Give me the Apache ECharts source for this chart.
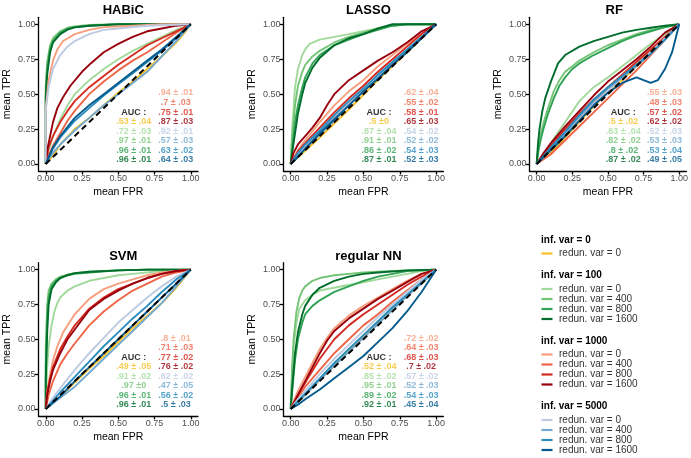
<!DOCTYPE html>
<html>
<head>
<meta charset="utf-8">
<script src="https://cdn.jsdelivr.net/npm/echarts@6/dist/echarts.min.js"></script>
<style>
  html, body { margin: 0; padding: 0; background: #fff; }
  #chart { width: 691px; height: 458px; }
</style>
</head>
<body>
<div id="chart"></div>
<script>
// panel titles and axis ticks
const panelTitles = ["HABiC", "LASSO", "RF", "SVM", "regular NN"];
const tickValues = [0, 0.25, 0.5, 0.75, 1];
const diagonal = [[0, 0], [1, 1]];

// curve order: inf0/r0, inf100 r0..r1600, inf1000 r0..r1600, inf5000 r0..r1600
const habicRoc = [
  [[0,0],[0.05,0.06],[0.1,0.14],[0.2,0.25],[0.3,0.33],[0.4,0.42],[0.5,0.51],[0.6,0.59],[0.7,0.68],[0.8,0.77],[0.9,0.87],[0.95,0.93],[1,1]],
  [[0,0],[0.02,0.1],[0.05,0.2],[0.1,0.32],[0.15,0.42],[0.2,0.5],[0.3,0.6],[0.4,0.68],[0.5,0.75],[0.6,0.81],[0.7,0.86],[0.8,0.91],[0.9,0.96],[1,1]],
  [[0,0],[0,0.56],[0.01,0.73],[0.03,0.85],[0.05,0.9],[0.1,0.95],[0.15,0.975],[0.2,0.985],[0.3,0.995],[0.5,1],[1,1]],
  [[0,0],[0,0.5],[0.01,0.68],[0.03,0.82],[0.05,0.88],[0.1,0.94],[0.15,0.968],[0.2,0.98],[0.3,0.99],[0.5,1],[1,1]],
  [[0,0],[0,0.47],[0.01,0.64],[0.03,0.8],[0.05,0.87],[0.1,0.93],[0.15,0.962],[0.2,0.978],[0.3,0.99],[0.5,1],[1,1]],
  [[0,0],[0,0.4],[0.02,0.6],[0.05,0.74],[0.08,0.82],[0.12,0.88],[0.2,0.93],[0.3,0.96],[0.4,0.98],[0.6,0.99],[0.8,1],[1,1]],
  [[0,0],[0.02,0.06],[0.05,0.13],[0.1,0.22],[0.15,0.31],[0.2,0.38],[0.3,0.5],[0.4,0.59],[0.5,0.67],[0.6,0.74],[0.7,0.8],[0.8,0.87],[0.9,0.94],[1,1]],
  [[0,0],[0.02,0.12],[0.05,0.2],[0.1,0.3],[0.15,0.38],[0.2,0.45],[0.3,0.55],[0.4,0.63],[0.5,0.71],[0.6,0.78],[0.7,0.85],[0.8,0.9],[0.9,0.95],[1,1]],
  [[0,0],[0.01,0.1],[0.03,0.2],[0.05,0.3],[0.08,0.4],[0.12,0.48],[0.17,0.56],[0.25,0.66],[0.31,0.72],[0.4,0.8],[0.5,0.86],[0.6,0.91],[0.7,0.95],[0.8,0.97],[0.9,0.99],[1,1]],
  [[0,0],[0,0.38],[0.02,0.55],[0.05,0.68],[0.1,0.78],[0.15,0.84],[0.2,0.88],[0.3,0.93],[0.4,0.96],[0.5,0.97],[0.7,0.99],[1,1]],
  [[0,0],[0.05,0.08],[0.1,0.14],[0.2,0.24],[0.3,0.33],[0.4,0.42],[0.5,0.5],[0.6,0.58],[0.7,0.66],[0.8,0.77],[0.9,0.88],[1,1]],
  [[0,0],[0.05,0.11],[0.1,0.19],[0.2,0.31],[0.3,0.4],[0.4,0.49],[0.5,0.57],[0.6,0.65],[0.7,0.73],[0.8,0.81],[0.9,0.9],[1,1]],
  [[0,0],[0.05,0.12],[0.1,0.2],[0.2,0.33],[0.3,0.42],[0.4,0.5],[0.5,0.58],[0.6,0.66],[0.7,0.74],[0.8,0.82],[0.9,0.91],[1,1]]
];
const lassoRoc = [
  [[0,0],[0.2,0.19],[0.4,0.39],[0.6,0.6],[0.8,0.8],[1,1]],
  [[0,0],[0.01,0.25],[0.03,0.55],[0.05,0.68],[0.08,0.78],[0.1,0.82],[0.13,0.86],[0.2,0.89],[0.3,0.91],[0.4,0.93],[0.5,0.95],[0.6,0.97],[0.7,0.99],[0.8,1],[1,1]],
  [[0,0],[0.01,0.18],[0.03,0.42],[0.05,0.56],[0.08,0.66],[0.1,0.71],[0.15,0.77],[0.2,0.81],[0.3,0.87],[0.4,0.91],[0.5,0.94],[0.6,0.97],[0.7,0.99],[0.8,1],[1,1]],
  [[0,0],[0.01,0.1],[0.03,0.3],[0.05,0.42],[0.08,0.55],[0.1,0.62],[0.15,0.72],[0.2,0.78],[0.3,0.85],[0.4,0.89],[0.5,0.93],[0.6,0.96],[0.7,0.99],[0.8,1],[1,1]],
  [[0,0],[0.01,0.08],[0.03,0.22],[0.05,0.36],[0.08,0.5],[0.1,0.58],[0.15,0.69],[0.2,0.76],[0.3,0.85],[0.4,0.9],[0.5,0.93],[0.6,0.97],[0.7,1],[1,1]],
  [[0,0],[0.05,0.1],[0.1,0.17],[0.2,0.3],[0.3,0.42],[0.4,0.52],[0.5,0.6],[0.6,0.7],[0.7,0.78],[0.8,0.86],[0.9,0.93],[1,1]],
  [[0,0],[0.05,0.07],[0.1,0.13],[0.2,0.23],[0.3,0.33],[0.4,0.43],[0.5,0.53],[0.6,0.63],[0.7,0.72],[0.8,0.81],[0.9,0.91],[1,1]],
  [[0,0],[0.05,0.09],[0.1,0.15],[0.2,0.26],[0.3,0.37],[0.4,0.47],[0.5,0.56],[0.6,0.66],[0.7,0.75],[0.8,0.84],[0.9,0.93],[1,1]],
  [[0,0],[0.02,0.08],[0.05,0.14],[0.1,0.2],[0.15,0.26],[0.2,0.33],[0.25,0.42],[0.3,0.5],[0.4,0.6],[0.5,0.67],[0.6,0.74],[0.7,0.8],[0.8,0.87],[0.9,0.95],[1,1]],
  [[0,0],[0.05,0.07],[0.1,0.13],[0.2,0.23],[0.3,0.33],[0.4,0.43],[0.5,0.53],[0.6,0.63],[0.7,0.72],[0.8,0.82],[0.9,0.91],[1,1]],
  [[0,0],[0.05,0.06],[0.1,0.11],[0.2,0.21],[0.3,0.31],[0.4,0.42],[0.5,0.52],[0.6,0.62],[0.7,0.71],[0.8,0.81],[0.9,0.9],[1,1]],
  [[0,0],[0.05,0.08],[0.1,0.14],[0.2,0.24],[0.3,0.35],[0.4,0.45],[0.5,0.54],[0.6,0.64],[0.7,0.73],[0.8,0.82],[0.9,0.91],[1,1]],
  [[0,0],[0.05,0.05],[0.1,0.11],[0.2,0.22],[0.3,0.32],[0.4,0.42],[0.5,0.52],[0.6,0.61],[0.7,0.71],[0.8,0.8],[0.9,0.9],[1,1]]
];
const rfRoc = [
  [[0,0],[0.1,0.08],[0.2,0.19],[0.3,0.3],[0.4,0.41],[0.5,0.52],[0.6,0.6],[0.7,0.7],[0.8,0.8],[0.9,0.9],[1,1]],
  [[0,0],[0.05,0.07],[0.1,0.15],[0.2,0.3],[0.3,0.45],[0.4,0.55],[0.5,0.62],[0.6,0.7],[0.7,0.78],[0.8,0.86],[0.9,0.93],[1,1]],
  [[0,0],[0.01,0.1],[0.03,0.22],[0.05,0.3],[0.08,0.4],[0.12,0.52],[0.16,0.6],[0.2,0.66],[0.25,0.7],[0.3,0.74],[0.4,0.8],[0.5,0.85],[0.6,0.89],[0.7,0.93],[0.8,0.96],[0.9,0.98],[1,1]],
  [[0,0],[0.01,0.08],[0.03,0.18],[0.05,0.26],[0.08,0.36],[0.12,0.47],[0.16,0.56],[0.2,0.62],[0.25,0.68],[0.3,0.72],[0.4,0.78],[0.5,0.83],[0.6,0.88],[0.7,0.92],[0.8,0.95],[0.9,0.98],[1,1]],
  [[0,0],[0.01,0.15],[0.02,0.25],[0.04,0.38],[0.06,0.47],[0.1,0.59],[0.15,0.72],[0.2,0.78],[0.3,0.84],[0.4,0.88],[0.5,0.91],[0.6,0.94],[0.7,0.96],[0.8,0.975],[0.9,0.99],[1,1]],
  [[0,0],[0.1,0.1],[0.2,0.22],[0.3,0.33],[0.4,0.44],[0.5,0.54],[0.6,0.63],[0.7,0.72],[0.8,0.82],[0.9,0.91],[1,1]],
  [[0,0],[0.1,0.07],[0.2,0.17],[0.3,0.27],[0.4,0.37],[0.5,0.47],[0.6,0.57],[0.7,0.67],[0.8,0.78],[0.9,0.89],[1,1]],
  [[0,0],[0.05,0.07],[0.1,0.13],[0.2,0.25],[0.3,0.36],[0.4,0.46],[0.5,0.55],[0.6,0.64],[0.7,0.73],[0.8,0.82],[0.9,0.91],[1,1]],
  [[0,0],[0.05,0.08],[0.1,0.15],[0.2,0.27],[0.3,0.38],[0.4,0.49],[0.5,0.59],[0.6,0.67],[0.7,0.75],[0.8,0.84],[0.9,0.94],[1,1]],
  [[0,0],[0.1,0.1],[0.2,0.21],[0.3,0.32],[0.4,0.43],[0.5,0.52],[0.6,0.62],[0.7,0.71],[0.8,0.8],[0.9,0.9],[1,1]],
  [[0,0],[0.1,0.11],[0.2,0.22],[0.3,0.34],[0.4,0.45],[0.5,0.54],[0.6,0.62],[0.7,0.7],[0.8,0.79],[0.9,0.89],[1,1]],
  [[0,0],[0.1,0.12],[0.2,0.23],[0.3,0.35],[0.4,0.46],[0.5,0.55],[0.6,0.63],[0.7,0.71],[0.8,0.79],[0.9,0.89],[1,1]],
  [[0,0],[0.1,0.1],[0.2,0.2],[0.3,0.31],[0.4,0.42],[0.5,0.51],[0.6,0.58],[0.7,0.62],[0.75,0.6],[0.8,0.58],[0.85,0.6],[0.9,0.68],[0.95,0.8],[1,1]]
];
const svmRoc = [
  [[0,0],[0.1,0.09],[0.2,0.19],[0.3,0.29],[0.4,0.38],[0.5,0.48],[0.6,0.58],[0.7,0.67],[0.8,0.76],[0.9,0.87],[1,1]],
  [[0,0],[0.01,0.3],[0.02,0.45],[0.04,0.6],[0.06,0.7],[0.08,0.76],[0.1,0.8],[0.15,0.85],[0.2,0.88],[0.3,0.92],[0.4,0.94],[0.5,0.96],[0.6,0.97],[0.8,0.99],[1,1]],
  [[0,0],[0,0.45],[0.01,0.75],[0.02,0.85],[0.04,0.9],[0.07,0.93],[0.1,0.95],[0.15,0.965],[0.2,0.975],[0.3,0.985],[0.5,0.995],[0.7,1],[1,1]],
  [[0,0],[0,0.3],[0.01,0.65],[0.02,0.8],[0.04,0.88],[0.07,0.92],[0.1,0.94],[0.15,0.96],[0.2,0.97],[0.3,0.98],[0.5,0.995],[0.7,1],[1,1]],
  [[0,0],[0,0.2],[0.01,0.55],[0.02,0.75],[0.04,0.86],[0.07,0.91],[0.1,0.94],[0.15,0.96],[0.2,0.975],[0.3,0.985],[0.5,0.995],[0.7,1],[1,1]],
  [[0,0],[0.01,0.12],[0.03,0.25],[0.05,0.35],[0.08,0.45],[0.12,0.55],[0.2,0.68],[0.3,0.79],[0.4,0.86],[0.5,0.9],[0.6,0.93],[0.7,0.96],[0.8,0.98],[0.9,0.99],[1,1]],
  [[0,0],[0.02,0.1],[0.05,0.2],[0.1,0.32],[0.15,0.4],[0.2,0.47],[0.3,0.6],[0.4,0.7],[0.5,0.78],[0.6,0.85],[0.7,0.9],[0.8,0.95],[0.9,0.98],[1,1]],
  [[0,0],[0.01,0.12],[0.03,0.22],[0.05,0.3],[0.1,0.43],[0.15,0.52],[0.2,0.6],[0.25,0.66],[0.3,0.72],[0.4,0.8],[0.5,0.86],[0.6,0.9],[0.7,0.94],[0.8,0.97],[0.9,0.99],[1,1]],
  [[0,0],[0.01,0.1],[0.03,0.2],[0.05,0.28],[0.1,0.4],[0.15,0.5],[0.2,0.57],[0.25,0.64],[0.3,0.71],[0.35,0.75],[0.4,0.79],[0.5,0.85],[0.6,0.9],[0.7,0.94],[0.8,0.97],[0.9,0.99],[1,1]],
  [[0,0],[0.05,0.08],[0.1,0.15],[0.2,0.28],[0.3,0.4],[0.4,0.51],[0.5,0.62],[0.6,0.71],[0.7,0.8],[0.8,0.88],[0.9,0.95],[1,1]],
  [[0,0],[0.05,0.04],[0.1,0.08],[0.2,0.16],[0.3,0.26],[0.4,0.36],[0.5,0.46],[0.6,0.56],[0.7,0.66],[0.8,0.76],[0.9,0.88],[1,1]],
  [[0,0],[0.05,0.06],[0.1,0.12],[0.2,0.23],[0.3,0.34],[0.4,0.45],[0.5,0.55],[0.6,0.65],[0.7,0.74],[0.8,0.84],[0.9,0.93],[1,1]],
  [[0,0],[0.1,0.09],[0.2,0.2],[0.3,0.3],[0.4,0.4],[0.5,0.5],[0.6,0.6],[0.7,0.7],[0.8,0.8],[0.9,0.9],[1,1]]
];
const nnRoc = [
  [[0,0],[0.1,0.1],[0.2,0.21],[0.3,0.31],[0.4,0.42],[0.5,0.52],[0.6,0.62],[0.7,0.72],[0.8,0.81],[0.9,0.9],[1,1]],
  [[0,0],[0.01,0.25],[0.02,0.45],[0.04,0.62],[0.06,0.72],[0.1,0.78],[0.15,0.82],[0.2,0.85],[0.3,0.87],[0.4,0.89],[0.5,0.91],[0.6,0.93],[0.7,0.95],[0.8,0.97],[0.9,0.99],[1,1]],
  [[0,0],[0.01,0.3],[0.02,0.5],[0.04,0.7],[0.06,0.8],[0.08,0.85],[0.1,0.88],[0.15,0.92],[0.2,0.94],[0.3,0.96],[0.4,0.97],[0.5,0.98],[0.7,0.99],[1,1]],
  [[0,0],[0.01,0.12],[0.03,0.35],[0.05,0.5],[0.08,0.62],[0.1,0.68],[0.15,0.74],[0.2,0.78],[0.3,0.84],[0.4,0.88],[0.5,0.92],[0.6,0.95],[0.7,0.97],[0.8,0.99],[1,1]],
  [[0,0],[0.01,0.15],[0.03,0.4],[0.05,0.55],[0.08,0.68],[0.1,0.74],[0.15,0.82],[0.2,0.87],[0.3,0.92],[0.4,0.95],[0.5,0.97],[0.6,0.98],[0.8,0.995],[1,1]],
  [[0,0],[0.05,0.13],[0.1,0.23],[0.15,0.33],[0.2,0.43],[0.25,0.51],[0.3,0.58],[0.4,0.67],[0.5,0.74],[0.6,0.8],[0.7,0.86],[0.8,0.92],[0.9,0.97],[1,1]],
  [[0,0],[0.05,0.08],[0.1,0.16],[0.2,0.28],[0.3,0.4],[0.4,0.5],[0.5,0.6],[0.6,0.68],[0.7,0.77],[0.8,0.85],[0.9,0.93],[1,1]],
  [[0,0],[0.05,0.1],[0.1,0.19],[0.2,0.36],[0.3,0.5],[0.4,0.6],[0.5,0.68],[0.6,0.75],[0.7,0.82],[0.8,0.89],[0.9,0.95],[1,1]],
  [[0,0],[0.05,0.1],[0.1,0.2],[0.15,0.3],[0.2,0.4],[0.25,0.49],[0.3,0.56],[0.4,0.65],[0.5,0.72],[0.6,0.79],[0.7,0.85],[0.8,0.91],[0.9,0.97],[1,1]],
  [[0,0],[0.05,0.07],[0.1,0.13],[0.2,0.25],[0.3,0.36],[0.4,0.46],[0.5,0.56],[0.6,0.66],[0.7,0.75],[0.8,0.84],[0.9,0.93],[1,1]],
  [[0,0],[0.1,0.1],[0.2,0.21],[0.3,0.31],[0.4,0.41],[0.5,0.51],[0.6,0.61],[0.7,0.71],[0.8,0.81],[0.9,0.9],[1,1]],
  [[0,0],[0.1,0.11],[0.2,0.22],[0.3,0.33],[0.4,0.43],[0.5,0.53],[0.6,0.63],[0.7,0.73],[0.8,0.82],[0.9,0.91],[1,1]],
  [[0,0],[0.05,0.03],[0.1,0.07],[0.2,0.14],[0.3,0.22],[0.4,0.3],[0.5,0.38],[0.6,0.48],[0.7,0.58],[0.8,0.7],[0.9,0.84],[1,1]]
];

// AUC text, same order as the curves
const habicAuc = [".53 ± .04", ".72 ± .03", ".97 ± .01", ".96 ± .01", ".96 ± .01", ".94 ± .01", ".7 ± .03", ".75 ± .01", ".87 ± .03", ".92 ± .01", ".57 ± .03", ".63 ± .02", ".64 ± .03"];
const lassoAuc = [".5 ±0", ".87 ± .04", ".91 ± .01", ".86 ± .02", ".87 ± .01", ".62 ± .04", ".55 ± .02", ".58 ± .01", ".65 ± .03", ".54 ± .02", ".52 ± .02", ".54 ± .03", ".52 ± .03"];
const rfAuc = [".5 ± .02", ".63 ± .04", ".82 ± .02", ".8 ± .02", ".87 ± .02", ".55 ± .03", ".48 ± .03", ".57 ± .02", ".62 ± .02", ".52 ± .03", ".53 ± .03", ".53 ± .04", ".49 ± .05"];
const svmAuc = [".49 ± .05", ".91 ± .02", ".97 ±0", ".96 ± .01", ".96 ± .01", ".8 ± .01", ".71 ± .03", ".77 ± .02", ".76 ± .02", ".62 ± .02", ".47 ± .05", ".56 ± .02", ".5 ± .03"];
const nnAuc = [".52 ± .04", ".85 ± .02", ".95 ± .01", ".89 ± .02", ".92 ± .01", ".72 ± .02", ".64 ± .03", ".68 ± .03", ".7 ± .02", ".57 ± .02", ".52 ± .03", ".54 ± .03", ".45 ± .04"];

// legend
const legendHeaders = ["inf. var = 0", "inf. var = 100", "inf. var = 1000", "inf. var = 5000"];
const legendLabels = [
  ["redun. var = 0"],
  ["redun. var = 0", "redun. var = 400", "redun. var = 800", "redun. var = 1600"],
  ["redun. var = 0", "redun. var = 400", "redun. var = 800", "redun. var = 1600"],
  ["redun. var = 0", "redun. var = 400", "redun. var = 800", "redun. var = 1600"]
];

const curveColors = [
  "#F6C026",
  "#A1D99B", "#74C476", "#31A354", "#006D2C",
  "#F79E7C", "#EE6548", "#D42A20", "#99000D",
  "#BDCAE2", "#74A9CF", "#2B8CBE", "#045A8D"
];

const FONT = "'Liberation Sans', Arial, Helvetica, sans-serif";
const rocs = [habicRoc, lassoRoc, rfRoc, svmRoc, nnRoc];
const aucs = [habicAuc, lassoAuc, rfAuc, svmAuc, nnAuc];

const grids = [
  { left: 38.5, top: 17.3, width: 159.5, height: 153.7 },
  { left: 283.4, top: 17.3, width: 160, height: 153.7 },
  { left: 529.5, top: 17.3, width: 159.5, height: 153.7 },
  { left: 38.5, top: 262.7, width: 159.5, height: 153.2 },
  { left: 283.4, top: 262.7, width: 160, height: 153.2 }
];

function axis(i, name, gap) {
  return {
    gridIndex: i,
    type: "value",
    min: -0.05,
    max: 1.05,
    name: name,
    nameLocation: "middle",
    nameGap: gap,
    nameTextStyle: { color: "#000", fontSize: 10.5, fontFamily: FONT },
    axisLine: { show: true, onZero: false, lineStyle: { color: "#000", width: 1.3 } },
    axisTick: { show: true, customValues: tickValues, length: 3.5, lineStyle: { color: "#000", width: 1.3 } },
    axisLabel: {
      customValues: tickValues,
      formatter: v => v.toFixed(2),
      color: "#4D4D4D",
      fontSize: 9,
      margin: 3,
      fontFamily: FONT
    },
    splitLine: { show: false }
  };
}

const series = [];
rocs.forEach((roc, p) => {
  roc.forEach((curve, k) => {
    series.push({
      type: "line",
      xAxisIndex: p,
      yAxisIndex: p,
      data: curve,
      symbol: "none",
      silent: true,
      lineStyle: { color: curveColors[k], width: 1.9 },
      itemStyle: { color: curveColors[k] },
      z: 2
    });
  });
  series.push({
    type: "line",
    xAxisIndex: p,
    yAxisIndex: p,
    data: diagonal,
    symbol: "none",
    silent: true,
    lineStyle: { color: "#000", width: 2, type: [6, 4] },
    z: 3
  });
  // AUC annotations: right column holds 8 rows, left column starts at row 2
  const rowY = r => 0.509 - r * 0.0686;
  const labels = [{ value: [0.607, rowY(2)], name: "AUC :", label: { color: "#000" } }];
  aucs[p].forEach((txt, k) => {
    if (k < 5) labels.push({ value: [0.607, rowY(k + 3)], name: txt, label: { color: curveColors[k] } });
    else labels.push({ value: [0.897, rowY(k - 5)], name: txt, label: { color: curveColors[k] } });
  });
  series.push({
    type: "scatter",
    xAxisIndex: p,
    yAxisIndex: p,
    data: labels,
    symbolSize: 1,
    silent: true,
    itemStyle: { color: "rgba(0,0,0,0)" },
    label: {
      show: true,
      position: "inside",
      formatter: "{b}",
      fontSize: 9,
      fontWeight: "bold",
      fontFamily: FONT
    },
    z: 4
  });
});

// legend drawn by hand
const graphic = [];
let y = 240;
legendHeaders.forEach((h, g) => {
  graphic.push({
    type: "text",
    style: { text: h, x: 541, y: y, fill: "#000", font: "bold 10px " + FONT, verticalAlign: "middle" }
  });
  y += 13.5;
  const base = g === 0 ? 0 : 1 + (g - 1) * 4;
  legendLabels[g].forEach((lab, j) => {
    graphic.push({
      type: "line",
      shape: { x1: 541.5, y1: y, x2: 552.5, y2: y },
      style: { stroke: curveColors[base + j], lineWidth: 2.2 }
    });
    graphic.push({
      type: "text",
      style: { text: lab, x: 559, y: y, fill: "#333", font: "10px " + FONT, verticalAlign: "middle" }
    });
    y += 10;
  });
  y += 12;
});

const chart = echarts.init(document.getElementById("chart"), null, { renderer: "canvas" });
chart.setOption({
  animation: false,
  backgroundColor: "#fff",
  title: panelTitles.map((t, i) => ({
    text: t,
    left: grids[i].left + grids[i].width / 2,
    top: grids[i].top - 18,
    textAlign: "center",
    textStyle: { fontSize: 13, fontWeight: "bold", color: "#000", fontFamily: FONT }
  })),
  grid: grids,
  xAxis: grids.map((g, i) => axis(i, "mean FPR", 16)),
  yAxis: grids.map((g, i) => axis(i, "mean TPR", 26)),
  series: series,
  graphic: graphic
});
</script>
</body>
</html>
